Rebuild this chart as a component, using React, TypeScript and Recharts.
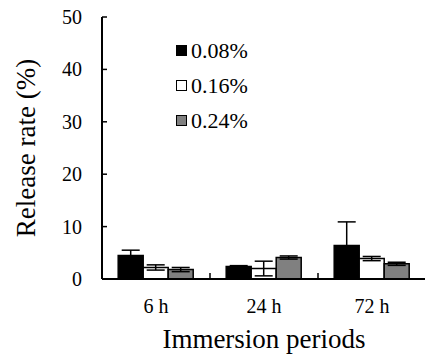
import { BarChart, Bar, XAxis, YAxis, ErrorBar, Legend } from 'recharts'

const periods = ['6 h', '24 h', '72 h']
const seriesNames = ['0.08%', '0.16%', '0.24%']
const rate008 = [4.5, 2.4, 6.4]
const err008 = [1.0, 0.15, 4.5]
const rate016 = [2.2, 2.0, 3.9]
const err016 = [0.5, 1.4, 0.4]
const rate024 = [1.8, 4.1, 2.9]
const err024 = [0.4, 0.3, 0.3]
const yTicks = [0, 10, 20, 30, 40, 50]

const fills = ['#000000', '#ffffff', '#808080']
const serif = '"Liberation Serif"'

const data = periods.map((p, i) => ({
  period: p,
  a: rate008[i],
  aErr: err008[i],
  b: rate016[i],
  bErr: err016[i],
  c: rate024[i],
  cErr: err024[i],
}))

// category label plus the small upward separator tick between groups
function PeriodTick(props: any) {
  const { x, y, payload, index, width, visibleTicksCount } = props
  const axisY = y - 20
  const half = width / (visibleTicksCount || 3) / 2
  return (
    <g>
      {index > 0 && (
        <line x1={x - half} x2={x - half} y1={axisY} y2={axisY - 6} stroke="#000" strokeWidth={1.5} />
      )}
      <text x={x} y={y + 14} textAnchor="middle" fill="#000" style={{ fontFamily: serif, fontSize: 20 }}>
        {payload.value}
      </text>
    </g>
  )
}

function RateTick(props: any) {
  const { x, y, payload } = props
  return (
    <text x={x} y={y + 7} textAnchor="end" fill="#000" style={{ fontFamily: serif, fontSize: 20 }}>
      {payload.value}
    </text>
  )
}

function YTitle(props: any) {
  const { viewBox } = props
  const cx = viewBox.x + 35
  const cy = viewBox.y + viewBox.height / 2
  return (
    <text
      x={cx}
      y={cy}
      transform={`rotate(-90 ${cx} ${cy})`}
      textAnchor="middle"
      fill="#000"
      style={{ fontFamily: serif, fontSize: 27 }}
    >
      Release rate (%)
    </text>
  )
}

function XTitle(props: any) {
  const { viewBox } = props
  return (
    <text
      x={viewBox.x + viewBox.width / 2}
      y={viewBox.y + viewBox.height - 6}
      textAnchor="middle"
      fill="#000"
      style={{ fontFamily: serif, fontSize: 27 }}
    >
      Immersion periods
    </text>
  )
}

function LegendBox() {
  return (
    <div>
      {seriesNames.map((name, i) => (
        <div key={name} style={{ display: 'flex', alignItems: 'center', height: 35 }}>
          <span
            style={{
              display: 'inline-block',
              width: 9,
              height: 9,
              background: fills[i],
              border: '1.5px solid #000',
              marginRight: 4,
            }}
          />
          <span style={{ fontFamily: serif, fontSize: 22, color: '#000' }}>{name}</span>
        </div>
      ))}
    </div>
  )
}

export default function App() {
  return (
    <div style={{ position: 'absolute', left: 0, top: 0, width: 425, height: 354, overflow: 'hidden', background: '#fff' }}>
      <BarChart
        width={430}
        height={354}
        data={data}
        margin={{ top: 17, right: 4, left: 0, bottom: 0 }}
        barCategoryGap="15%"
        barGap={0}
      >
        <XAxis
          dataKey="period"
          height={75}
          axisLine={{ stroke: '#000', strokeWidth: 2 }}
          tickLine={false}
          tickSize={6}
          tickMargin={14}
          interval={0}
          tick={<PeriodTick />}
          label={<XTitle />}
        />
        <YAxis
          width={102}
          domain={[0, 50]}
          ticks={yTicks}
          interval={0}
          axisLine={{ stroke: '#000', strokeWidth: 2 }}
          tickSize={-5}
          tickMargin={25}
          tickLine={{ stroke: '#000', strokeWidth: 1.5 }}
          tick={<RateTick />}
          label={<YTitle />}
        />
        <Legend
          layout="vertical"
          align="center"
          verticalAlign="middle"
          wrapperStyle={{ position: 'absolute', left: 176, top: 33, width: 'auto' }}
          content={() => <LegendBox />}
        />
        <Bar dataKey="a" name={seriesNames[0]} fill={fills[0]} stroke="#000" strokeWidth={1.5} isAnimationActive={false}>
          <ErrorBar dataKey="aErr" width={9} stroke="#000" strokeWidth={1.5} />
        </Bar>
        <Bar dataKey="b" name={seriesNames[1]} fill={fills[1]} stroke="#000" strokeWidth={1.5} isAnimationActive={false}>
          <ErrorBar dataKey="bErr" width={9} stroke="#000" strokeWidth={1.5} />
        </Bar>
        <Bar dataKey="c" name={seriesNames[2]} fill={fills[2]} stroke="#000" strokeWidth={1.5} isAnimationActive={false}>
          <ErrorBar dataKey="cErr" width={9} stroke="#000" strokeWidth={1.5} />
        </Bar>
      </BarChart>
    </div>
  )
}
